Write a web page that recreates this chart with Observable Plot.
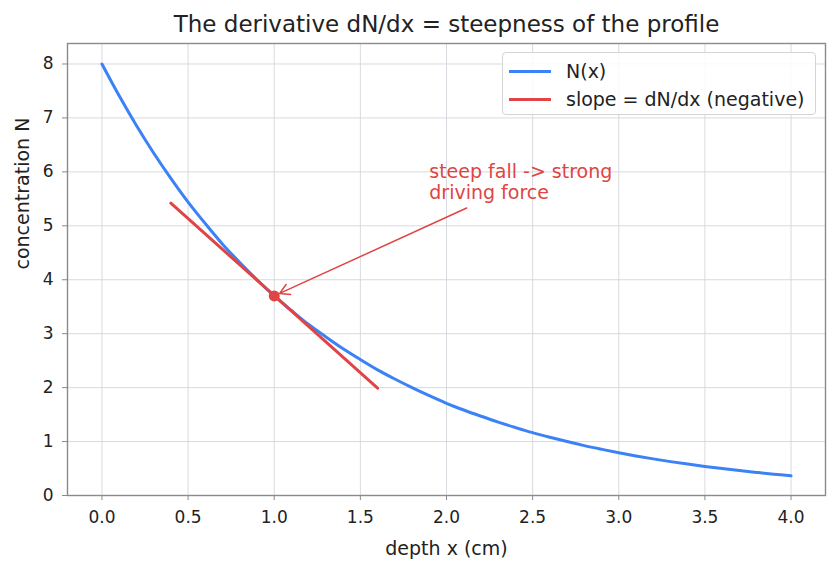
<!DOCTYPE html>
<html>
<head>
<meta charset="utf-8">
<script src="https://cdn.jsdelivr.net/npm/d3@7"></script>
<script src="https://cdn.jsdelivr.net/npm/@observablehq/plot@0.6"></script>
<style>
  body { margin: 0; background: #fff; font-family: "DejaVu Sans", sans-serif; }
  #wrap { position: relative; width: 840px; height: 569px; }
  .legend {
    position: absolute; left: 502px; top: 52px; width: 312px; height: 61px;
    border: 1px solid #d4d4d4; border-radius: 4px; background: rgba(255,255,255,0.85);
    font-size: 19px; color: #222;
  }
  .row { position: absolute; left: 6px; display: flex; align-items: center; height: 24px; }
  .sw { width: 42px; height: 3px; margin-right: 15px; }
</style>
</head>
<body>
<div id="wrap"></div>
<script>
// concentration profile N(x) sampled along depth
const depth = [0.0,0.1,0.2,0.3,0.4,0.5,0.6,0.7,0.8,0.9,1.0,1.1,1.2,1.3,1.4,1.5,1.6,1.7,1.8,1.9,2.0,
               2.1,2.2,2.3,2.4,2.5,2.6,2.7,2.8,2.9,3.0,3.1,3.2,3.3,3.4,3.5,3.6,3.7,3.8,3.9,4.0];
const concentration = [8.00,7.41,6.86,6.35,5.88,5.44,5.04,4.66,4.32,4.00,3.70,3.43,3.17,2.94,2.72,2.52,2.33,2.16,2.00,1.85,1.71,
                       1.585,1.47,1.36,1.26,1.165,1.08,1.00,0.925,0.857,0.792,0.733,0.679,0.628,0.582,0.539,0.499,0.462,0.428,0.396,0.366];

// tangent segment at x = 1
const slopeDepth = [0.4, 1.6];
const slopeConc = [5.42, 1.99];
const tangentPoint = { x: 1.0, N: 3.7 };

// annotation
const noteText = "steep fall -> strong\ndriving force";
const notePos = { x: 1.9, N: 5.81 };
const arrowTail = { x: 2.117, N: 5.33 };

const xTicks = [0, 0.5, 1, 1.5, 2, 2.5, 3, 3.5, 4];
const yTicks = [0, 1, 2, 3, 4, 5, 6, 7, 8];

const BLUE = "#3b82f6";
const RED = "#e04444";

const profile = depth.map((x, i) => ({ x, N: concentration[i] }));
const slope = slopeDepth.map((x, i) => ({ x, N: slopeConc[i] }));

const chart = Plot.plot({
  width: 840,
  height: 569,
  marginLeft: 67,
  marginRight: 15,
  marginTop: 43,
  marginBottom: 74,
  style: { fontFamily: "DejaVu Sans", background: "#fff", color: "#222", overflow: "visible" },
  x: { domain: [-0.2, 4.2] },
  y: { domain: [0, 8.38] },
  marks: [
    Plot.gridX(xTicks, { stroke: "#d3d6da", strokeOpacity: 1, strokeWidth: 0.9 }),
    Plot.gridY(yTicks, { stroke: "#d3d6da", strokeOpacity: 1, strokeWidth: 0.9 }),
    Plot.line(profile, { x: "x", y: "N", stroke: BLUE, strokeWidth: 3, curve: "catmull-rom" }),
    Plot.line(slope, { x: "x", y: "N", stroke: RED, strokeWidth: 3 }),
    Plot.dot([tangentPoint], { x: "x", y: "N", r: 5.5, fill: RED, stroke: null }),
    Plot.arrow([{ x1: arrowTail.x, y1: arrowTail.N, x2: tangentPoint.x, y2: tangentPoint.N }], {
      x1: "x1", y1: "y1", x2: "x2", y2: "y2",
      stroke: RED, strokeWidth: 1.5, bend: 0, headLength: 11, insetEnd: 6
    }),
    Plot.text([notePos], {
      x: "x", y: "N", text: () => noteText, textAnchor: "start", lineAnchor: "middle",
      lineHeight: 1.1, fill: RED, fontSize: 19
    }),
    Plot.frame({ stroke: "#8a8a8a", strokeWidth: 1.4 }),
    Plot.axisX(xTicks, {
      tickFormat: d3.format(".1f"), tickSize: 5, tickPadding: 10, stroke: "#8a8a8a",
      fontSize: 17, fill: "#222", label: null
    }),
    Plot.axisY(yTicks, {
      tickFormat: d3.format("d"), tickSize: 5, tickPadding: 9, stroke: "#8a8a8a",
      fontSize: 17, fill: "#222", label: null
    }),
    Plot.text(["depth x (cm)"], { frameAnchor: "bottom", dy: 53, fontSize: 19, fill: "#222", lineAnchor: "middle" }),
    Plot.text(["concentration N"], { frameAnchor: "left", dx: -45, rotate: -90, fontSize: 19, fill: "#222" }),
    Plot.text(["The derivative dN/dx = steepness of the profile"], {
      frameAnchor: "top", dy: -18.5, fontSize: 23, fill: "#222", lineAnchor: "middle"
    })
  ]
});

const wrap = document.getElementById("wrap");
wrap.appendChild(chart);

// legend box in the upper right of the axes
const legend = document.createElement("div");
legend.className = "legend";
legend.innerHTML = `
  <div class="row" style="top:6px"><div class="sw" style="background:${BLUE}"></div><span>N(x)</span></div>
  <div class="row" style="top:34px"><div class="sw" style="background:${RED}"></div><span>slope = dN/dx (negative)</span></div>`;
wrap.appendChild(legend);
</script>
</body>
</html>
